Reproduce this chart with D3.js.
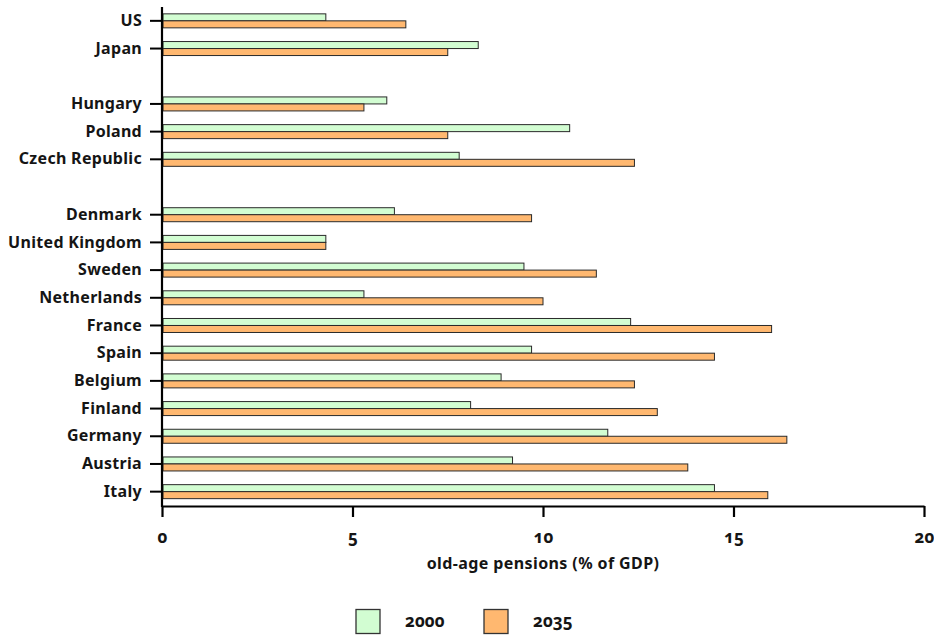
<!DOCTYPE html>
<html>
<head>
<meta charset="utf-8">
<script src="https://cdn.jsdelivr.net/npm/d3@7"></script>
<style>
  html, body { margin: 0; padding: 0; background: #fff; }
  svg { display: block; font-family: "Noto Sans", Lato, sans-serif; }
  svg text { font-family: "Noto Sans", Lato, sans-serif; font-variant-numeric: oldstyle-nums; font-feature-settings: "onum" 1; }
</style>
</head>
<body>
<svg id="chart" width="934" height="639"></svg>
<script>
// Rows (empty string = blank spacer row)
const categories = ["US", "Japan", "", "Hungary", "Poland", "Czech Republic", "",
  "Denmark", "United Kingdom", "Sweden", "Netherlands", "France", "Spain",
  "Belgium", "Finland", "Germany", "Austria", "Italy"];
const seriesNames = ["2000", "2035"];
const values2000 = [4.3, 8.3, null, 5.9, 10.7, 7.8, null,
  6.1, 4.3, 9.5, 5.3, 12.3, 9.7, 8.9, 8.1, 11.7, 9.2, 14.5];
const values2035 = [6.4, 7.5, null, 5.3, 7.5, 12.4, null,
  9.7, 4.3, 11.4, 10.0, 16.0, 14.5, 12.4, 13.0, 16.4, 13.8, 15.9];
const xTicks = [0, 5, 10, 15, 20];
const colors = ["#d2fdd2", "#ffb870"];
const axisTitle = "old-age pensions (% of GDP)";

const svg = d3.select("#chart");
const x = d3.scaleLinear().domain([0, 20]).range([162, 924]);
const rowKeys = categories.map((c, i) => i);
const y = d3.scaleBand().domain(rowKeys).range([7, 505.5]).padding(0);
const barH = 7;

// bars
const series = [values2000, values2035];
series.forEach((vals, si) => {
  svg.append("g").selectAll("rect")
    .data(vals.map((v, i) => ({v, i})).filter(d => d.v !== null))
    .join("rect")
    .attr("x", x(0) + 1)
    .attr("y", d => y(d.i) + y.bandwidth() / 2 - barH + si * barH)
    .attr("width", d => x(d.v) - x(0) - 1)
    .attr("height", barH)
    .attr("fill", colors[si])
    .attr("stroke", "#2a2a2a")
    .attr("stroke-width", 1);
});

// y axis
const yAxis = d3.axisLeft(y)
  .tickValues(rowKeys.filter(i => categories[i] !== ""))
  .tickFormat(i => categories[i])
  .tickSize(12).tickPadding(8);
const gy = svg.append("g").attr("transform", `translate(${x(0)},0)`).call(yAxis)
  .attr("font-family", null).attr("font-size", null);
gy.select(".domain").remove();
gy.append("line").attr("x1", 0).attr("x2", 0).attr("y1", 7).attr("y2", 507)
  .attr("stroke", "#000").attr("stroke-width", 2.2);
gy.selectAll(".tick line").attr("stroke", "#000").attr("stroke-width", 2);
gy.selectAll(".tick text").attr("fill", "#151515").attr("font-size", 16)
  .attr("letter-spacing", 0.3).attr("font-weight", "bold");

// x axis
const xAxis = d3.axisBottom(x).tickValues(xTicks).tickSize(11).tickPadding(14).tickSizeOuter(0);
const gx = svg.append("g").attr("transform", `translate(0,506)`).call(xAxis)
  .attr("font-family", null).attr("font-size", null);
gx.select(".domain").attr("stroke", "#000").attr("stroke-width", 2.2);
gx.selectAll(".tick line").attr("stroke", "#000").attr("stroke-width", 2.2);
gx.selectAll(".tick text").attr("fill", "#151515").attr("font-size", 17).attr("font-weight", "bold");

svg.append("text").attr("x", 543).attr("y", 569).attr("text-anchor", "middle")
  .attr("font-size", 16).attr("letter-spacing", 0.4).attr("font-weight", "bold")
  .attr("fill", "#151515").text(axisTitle);

// legend
const legX = [356, 484];
seriesNames.forEach((name, i) => {
  svg.append("rect").attr("x", legX[i]).attr("y", 609.5).attr("width", 24).attr("height", 24)
    .attr("fill", colors[i]).attr("stroke", "#333").attr("stroke-width", 1.3);
  svg.append("text").attr("x", legX[i] + 49).attr("y", 627)
    .attr("font-size", 17).attr("font-weight", "bold").attr("fill", "#151515").text(name);
});
</script>
</body>
</html>
